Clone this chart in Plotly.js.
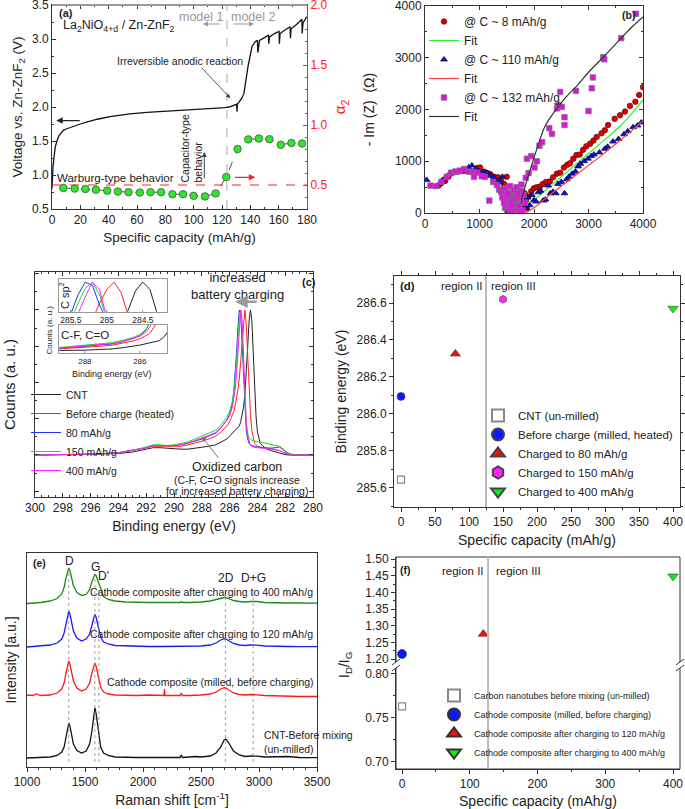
<!DOCTYPE html>
<html>
<head>
<meta charset="utf-8">
<script src="https://cdn.plot.ly/plotly-3.0.1.min.js"></script>
<style>body{margin:0;background:#fff}#graphDiv{width:685px;height:809px}</style>
</head>
<body>
<div id="graphDiv"></div>
<script>
// ---------- (a) charge curve and alpha2 ----------
var capA = [0, 0.3, 0.7, 1.5, 2.4, 3.5, 4.7, 6.5, 8.2, 10.5, 12.9, 16, 20, 25, 32, 41, 55, 67, 83, 102, 115, 122, 125, 128, 130.3, 130.6, 130.9, 132, 134, 135.5, 136.4, 137.3, 138.3, 139.5, 141.2, 143.5, 145.0, 145.3, 145.8, 146.5, 150, 152.8, 153.0, 153.5, 157, 160.3, 160.5, 161, 165, 168.1, 168.3, 168.8, 173, 176.4, 176.6, 177.2, 180];
var voltA = [0.8, 1.0, 1.12, 1.28, 1.42, 1.5, 1.57, 1.62, 1.66, 1.68, 1.70, 1.72, 1.75, 1.78, 1.82, 1.86, 1.9, 1.92, 1.94, 1.965, 1.975, 1.99, 2.0, 2.02, 2.04, 1.93, 2.04, 2.07, 2.13, 2.2, 2.30, 2.45, 2.59, 2.74, 2.89, 2.96, 2.98, 2.80, 2.92, 2.98, 3.02, 3.06, 2.93, 3.03, 3.08, 3.11, 2.93, 3.08, 3.14, 3.18, 3.01, 3.15, 3.22, 3.29, 3.08, 3.24, 3.33];
var capAlpha = [8, 16, 23.5, 31, 39, 46.5, 54, 62, 69.5, 77, 85, 92.5, 100, 108, 115.5, 123, 131, 138.5, 146, 153.5, 161.5, 169, 176.5];
var alpha2 = [0.475, 0.47, 0.467, 0.46, 0.453, 0.445, 0.44, 0.437, 0.44, 0.44, 0.423, 0.423, 0.41, 0.405, 0.43, 0.566, 0.8, 0.88, 0.887, 0.882, 0.835, 0.85, 0.846];

// ---------- (b) impedance ----------
var re8 = [250,300,370,430,490,550,610,680,740,810,890,960,1010,1080,1150,1200,1270,1340,1400,1450,1500,1480,1520,1560,1600,1640,1680,1720,1760,1800,1850,1900,1950,2000,2050,2110,2160,2220,2290,2350,2420,2480,2550,2610,2660,2720,2780,2840,2900,2960,3030,3090,3150,3240,3300,3360,3480,3580,3670,3760,3860,3930,4000,1550,1620,1700,1780,1830,1870];
var im8 = [530,580,620,700,770,790,800,810,815,800,795,870,880,800,770,750,700,690,620,560,700,420,330,260,200,150,120,90,130,180,240,320,420,480,500,510,560,600,610,690,760,780,880,930,960,1050,1120,1130,1220,1290,1340,1400,1470,1540,1600,1700,1820,1890,1960,2070,2150,2280,2430,60,330,280,40,380,90];
var re110 = [30,260,320,390,450,530,600,700,800,860,920,990,1060,1130,1200,1270,1330,1380,1420,1450,1480,1500,1520,1560,1600,1640,1680,1720,1760,1800,1850,1880,1920,1960,2000,2040,2080,2120,2170,2210,2260,2300,2350,2400,2440,2500,2560,2600,2640,2700,2760,2810,2850,2920,2990,3050,3100,3200,3300,3350,3450,3550,3650,3720,3820,3900,3970];
var im110 = [640,560,640,700,760,800,810,820,880,920,850,810,790,780,720,680,620,590,700,480,300,100,20,180,60,250,120,300,50,200,100,300,150,350,250,220,400,430,240,260,530,380,410,380,560,600,380,650,700,760,800,900,950,1000,1050,1100,1130,1170,1240,1280,1380,1430,1520,1580,1660,1690,1750];
var re132 = [100,200,300,400,480,560,640,720,800,880,900,960,1040,1100,1180,1250,1320,1360,1400,1420,1450,1470,1490,1510,1530,1550,1570,1590,1610,1630,1650,1670,1690,1710,1730,1750,1770,1790,1810,1830,1850,1870,1900,1950,2010,2050,2100,2150,2280,2330,2420,2450,2480,2510,2560,2560,2770,3000,3060,3080,3270,3290,3600,3870,1480,1520,1560,1600,1640,1680,1720,1760,1540,1620,1700,1580];
var im132 = [530,520,600,700,780,800,820,850,800,790,700,780,710,700,240,600,540,450,400,300,200,100,350,50,250,150,400,300,50,200,350,100,250,450,150,300,550,50,350,200,680,1050,770,1100,880,1000,1300,1370,1640,1530,2020,2080,2340,2050,1700,1850,2360,1970,2410,2620,3010,2970,3380,3850,480,380,520,150,450,500,30,420,10,260,380,230];
var fitRe8 = [250,350,450,550,650,750,850,950,1050,1150,1250,1350,1420,1480,1530,1580,1640,1700,1800,1900,2000,2200,2400,2600,2800,3000,3200,3400,3600,3800,4000];
var fitIm8 = [540,640,720,770,795,805,800,780,745,700,640,560,470,370,250,150,80,60,80,160,250,430,610,790,970,1150,1330,1510,1700,1930,2190];
var fitRe110 = [1850,2000,2200,2400,2600,2800,3000,3200,3400,3600,3800,4000];
var fitIm110 = [0,100,270,440,600,760,920,1080,1250,1420,1600,1780];
var fitRe132 = [1760,1850,1950,2050,2200,2350,2500,2650,2800,3000,3270,3600,3800,4000];
var fitIm132 = [200,560,900,1230,1670,1920,2130,2310,2470,2720,3010,3380,3600,3790];

// ---------- (c) XPS C 1s ----------
var bindE = [300,298,296,294,293,292,291.5,291,290.5,290,289.5,289,288.5,288,287.5,287,286.6,286.2,286.0,285.8,285.7,285.6,285.5,285.4,285.3,285.2,285.1,285.0,284.9,284.8,284.7,284.6,284.5,284.4,284.3,284.2,284.1,284.0,283.8,283.6,283.3,283.0,282.7,282.4,282.1,281.8,281.5,281,280];
var xpsCNT = [0,0,0.005,0.01,0.02,0.04,0.05,0.05,0.045,0.04,0.04,0.04,0.045,0.05,0.06,0.07,0.09,0.11,0.13,0.15,0.16,0.17,0.18,0.19,0.2,0.23,0.27,0.33,0.42,0.56,0.74,0.92,1.0,0.93,0.7,0.45,0.27,0.16,0.08,0.06,0.04,0.03,0.02,0.01,0.005,0,0,0,0];
var xpsHeated = [0,0,0.005,0.015,0.03,0.05,0.06,0.06,0.055,0.055,0.06,0.07,0.08,0.095,0.11,0.13,0.16,0.2,0.23,0.27,0.3,0.34,0.39,0.45,0.53,0.65,0.8,0.93,1.0,0.9,0.68,0.45,0.28,0.17,0.11,0.08,0.07,0.06,0.055,0.05,0.05,0.045,0.04,0.03,0.015,0.005,0,0,0];
var xps80 = [0,0,0.005,0.015,0.03,0.05,0.065,0.065,0.06,0.065,0.07,0.08,0.095,0.11,0.13,0.15,0.19,0.24,0.28,0.36,0.44,0.55,0.7,0.88,1.0,0.97,0.78,0.52,0.3,0.17,0.11,0.08,0.07,0.065,0.06,0.06,0.055,0.055,0.055,0.05,0.045,0.045,0.05,0.055,0.03,0.01,0,0,0];
var xps150 = [0,0,0.005,0.015,0.03,0.055,0.07,0.07,0.065,0.07,0.08,0.09,0.11,0.13,0.15,0.17,0.21,0.26,0.3,0.37,0.43,0.52,0.64,0.8,0.94,1.0,0.88,0.62,0.38,0.22,0.15,0.12,0.11,0.1,0.1,0.095,0.09,0.09,0.09,0.085,0.075,0.07,0.065,0.06,0.035,0.015,0.005,0,0];
var xps400 = [0,0,0.005,0.015,0.03,0.05,0.065,0.065,0.06,0.065,0.07,0.08,0.1,0.115,0.135,0.155,0.19,0.24,0.27,0.33,0.38,0.45,0.56,0.7,0.86,1.0,0.93,0.66,0.4,0.22,0.13,0.09,0.07,0.06,0.055,0.05,0.05,0.05,0.05,0.05,0.045,0.04,0.035,0.03,0.015,0.005,0,0,0];
var xpsNames = ['CNT', 'Before charge (heated)', '80 mAh/g', '150 mAh/g', '400 mAh/g'];

// ---------- (d) C-F / C=O binding energy ----------
var dNames = ['CNT (un-milled)', 'Before charge (milled, heated)', 'Charged to 80 mAh/g', 'Charged to 150 mAh/g', 'Charged to 400 mAh/g'];
var dCap = [0, 0, 80, 150, 400];
var dBE = [285.645, 286.095, 286.325, 286.62, 286.57];

// ---------- (e) Raman ----------
var ramanShift = [1000,1050,1080,1120,1200,1260,1300,1320,1335,1350,1360,1370,1385,1400,1430,1470,1510,1540,1560,1575,1585,1595,1610,1620,1635,1660,1700,1760,1850,1950,2050,2150,2180,2185,2190,2250,2320,2330,2340,2400,2450,2500,2580,2630,2670,2700,2715,2740,2780,2830,2880,2930,2950,2980,3050,3150,3250,3350,3500];
var ramanCNT = [0,0.3,0.3,0.5,1,2.5,6,11,19,30,35,32,22,14,7.5,5,7,14,27,43,50,45,30,20,11,5,2.5,1,0.5,0.5,0.5,0.5,0.5,0.5,0.5,0.5,0.5,3,0.5,1,1.5,1,2,5,11,18,19,15,7,3,1.5,2,2,1.8,1,1,1.5,0.5,0.3];
var ramanMilled = [2,1.5,3,1.5,2,4,8,14,23,32,36,33,24,16,9,6,8,14,24,31,34,31,23,17,10,5,3,2,1.5,1.5,2,1.5,1.5,8,1.5,1.5,1.5,4,1.5,1.5,1.5,2,3,5,8,9.4,9,7,4,2.5,2,2.5,2.5,2.2,1.5,1,1,0.5,0.5];
var raman120 = [0,0.5,0.5,1,2,4,8,14,23,31,35.7,33,24,16,9,6,8,13,22,30,32.7,30,22,16,10,5,3,1.5,1,0.5,0.5,0.5,0.5,0.5,0.5,0.5,0.5,0.5,0.5,0.5,0.5,1,2,4,7,8.4,8,6,3.5,2,1.5,2,2,1.8,1,0.5,0.5,0.3,0.3];
var raman400 = [0,0.5,0.5,1,2.5,5,9.5,16,25,32,35.6,33,25,18,11,8,9,14,22,27,29,28,23,20,14,7,4,2.5,1.5,1,1,1,1,1,1,1,1,2,1,1,1,1.5,2.5,4,5.5,6,6,5,3,2,1.5,2,2.3,2,1,0.5,0.5,0.5,0.3];
var ramanOffset = [9, 70, 120, 163.5];
var ramanBands = ['D', 'G', "D'", '2D', 'D+G'];
var bandShift = [1360, 1585, 1620, 2710, 2950];

// ---------- (f) ID/IG ----------
var fNames = ['Carbon nanotubes before mixing (un-milled)', 'Cathode composite (milled, before charging)', 'Cathode composite after charging to 120 mAh/g', 'Cathode composite after charging to 400 mAh/g'];
var fCap = [0, 0, 120, 400];
var fRatio = [0.763, 1.215, 1.275, 1.448];

// ---------- helpers ----------
var W = 685, H = 809;
function px(x) { return x / W; }
function py(y) { return 1 - y / H; }

function axis(o) {
  return Object.assign({
    showline: true, linecolor: '#333', linewidth: 1, mirror: 'ticks',
    ticks: 'inside', ticklen: 4, tickcolor: '#333', zeroline: false,
    showgrid: false, tickfont: {size: 12}, ticklabeloverflow: 'allow',
    title: {font: {size: 13.5}}
  }, o);
}
function note(x, y, text, o) {
  return Object.assign({xref: 'paper', yref: 'paper', x: px(x), y: py(y), text: text,
    xanchor: 'center', yanchor: 'middle', showarrow: false, font: {size: 11}}, o);
}
function arrow(xref, yref, x, y, ax, ay, color, width) {
  return {xref: xref, yref: yref, x: x, y: y, ax: ax, ay: ay, text: '', showarrow: true,
    arrowhead: 2, arrowsize: 1, arrowwidth: width || 1, arrowcolor: color || '#222'};
}

var data = [];

// (a)
data.push({x: capA, y: voltA, xaxis: 'x', yaxis: 'y', mode: 'lines', showlegend: false,
  line: {color: '#111', width: 1.3}});
data.push({x: capAlpha, y: alpha2, xaxis: 'x', yaxis: 'y2', mode: 'lines+markers', showlegend: false,
  line: {color: '#555', width: 1, dash: 'dash'},
  marker: {color: '#2ee62e', size: 7.5, line: {color: '#3a5a3a', width: 0.8}}});

// (b)
var bStyle = [
  {x: re8, y: im8, name: '@ C ~ 8 mAh/g', mode: 'markers', marker: {symbol: 'circle', size: 5.5, color: '#e00000', line: {color: '#500', width: 0.7}}},
  {x: fitRe8, y: fitIm8, name: 'Fit', mode: 'lines', line: {color: '#33ee33', width: 1.2, shape: 'spline'}},
  {x: re110, y: im110, name: '@ C ~ 110 mAh/g', mode: 'markers', marker: {symbol: 'triangle-up', size: 6, color: '#1010e0', line: {color: '#003', width: 0.7}}},
  {x: fitRe110, y: fitIm110, name: 'Fit', mode: 'lines', line: {color: '#ff4040', width: 1.2, shape: 'spline'}},
  {x: re132, y: im132, name: '@ C ~ 132 mAh/g', mode: 'markers', marker: {symbol: 'square', size: 5.5, color: '#e010e0', line: {color: '#777', width: 0.7}}},
  {x: fitRe132, y: fitIm132, name: 'Fit', mode: 'lines', line: {color: '#333', width: 1.2, shape: 'spline'}}
];
bStyle.forEach(function (t) {
  t.xaxis = 'x2'; t.yaxis = 'y3'; t.legend = 'legend';
  data.push(t);
});

// (c) main spectra + inset copies
var xpsSets = [xpsCNT, xpsHeated, xps80, xps150, xps400];
var xpsColors = ['#222', '#ff2020', '#2030ff', '#20dd20', '#ff20ff'];
xpsSets.forEach(function (s, i) {
  data.push({x: bindE, y: s, name: xpsNames[i], xaxis: 'x3', yaxis: 'y4', mode: 'lines',
    legend: 'legend2', line: {color: xpsColors[i], width: 1}});
  data.push({x: bindE, y: s, xaxis: 'x4', yaxis: 'y5', mode: 'lines', showlegend: false,
    line: {color: xpsColors[i], width: 1}});
  data.push({x: bindE, y: s, xaxis: 'x5', yaxis: 'y6', mode: 'lines', showlegend: false,
    line: {color: xpsColors[i], width: 1}});
});

// (d)
var dSymbols = ['square-open', 'circle', 'triangle-up', 'hexagon', 'triangle-down'];
var dColors = ['#888', '#0a1aff', '#ee1111', '#ff22ff', '#11ee11'];
var dSizes = [7, 8, 9, 8, 9];
dNames.forEach(function (n, i) {
  data.push({x: [dCap[i]], y: [dBE[i]], name: n, xaxis: 'x6', yaxis: 'y7', mode: 'markers',
    legend: 'legend3',
    marker: {symbol: dSymbols[i], size: dSizes[i], color: dColors[i],
      line: {color: i === 0 ? '#888' : '#444', width: i === 0 ? 1.2 : 0.6}}});
});

// (e)
var ramanSets = [ramanCNT, ramanMilled, raman120, raman400];
var ramanColors = ['#111', '#ff1a1a', '#1a1aff', '#1a8c1a'];
ramanSets.forEach(function (s, i) {
  data.push({x: ramanShift, y: s.map(function (v) { return v + ramanOffset[i]; }),
    xaxis: 'x7', yaxis: 'y8', mode: 'lines', showlegend: false,
    line: {color: ramanColors[i], width: 1.3}});
});

// (f)
var fSymbols = ['square-open', 'circle', 'triangle-up', 'triangle-down'];
var fColors = ['#888', '#0a1aff', '#ee1111', '#11ee11'];
fNames.forEach(function (n, i) {
  data.push({x: [fCap[i]], y: [fRatio[i]], name: n, xaxis: 'x8', yaxis: i === 0 ? 'y10' : 'y9',
    mode: 'markers', legend: 'legend4',
    marker: {symbol: fSymbols[i], size: i === 0 ? 7 : 9, color: fColors[i],
      line: {color: i === 0 ? '#888' : '#333', width: i === 0 ? 1.2 : 0.6}}});
});

var red = '#ff2020';
var layout = {
  width: W, height: H,
  margin: {l: 0, r: 0, t: 0, b: 0},
  paper_bgcolor: '#fff', plot_bgcolor: 'rgba(0,0,0,0)',
  font: {family: 'Liberation Sans, Arial, sans-serif', color: '#222', size: 12},
  showlegend: true,

  // (a)
  xaxis: axis({domain: [px(52), px(307)], range: [0, 180], dtick: 20, anchor: 'y',
    minor: {dtick: 10, ticks: 'inside', ticklen: 2},
    title: {text: 'Specific capacity (mAh/g)', font: {size: 13.5}, standoff: 6}}),
  yaxis: axis({domain: [py(209), py(5)], range: [0.5, 3.5], dtick: 0.5, tickformat: '.1f', anchor: 'x', mirror: false,
    minor: {dtick: 0.25, ticks: 'inside', ticklen: 2},
    title: {text: 'Voltage vs. Zn-ZnF<sub>2</sub> (V)', font: {size: 13.5}, standoff: 6}}),
  yaxis2: axis({overlaying: 'y', side: 'right', anchor: 'x', range: [0.3, 2.0], tickvals: [0.5, 1, 1.5, 2],
    tickformat: '.1f', mirror: false, linecolor: red, tickcolor: red, tickfont: {size: 12, color: red},
    minor: {dtick: 0.1, ticks: 'inside', ticklen: 2, tickcolor: red},
    title: {text: '\u03b1<sub>2</sub>', font: {size: 15, color: red}, standoff: 8}}),

  // (b)
  xaxis2: axis({domain: [px(425), px(643)], range: [0, 4000], dtick: 1000, anchor: 'y3',
    minor: {dtick: 500, ticks: 'inside', ticklen: 2}}),
  yaxis3: axis({domain: [py(213), py(6)], range: [0, 4000], dtick: 1000, anchor: 'x2',
    minor: {dtick: 500, ticks: 'inside', ticklen: 2},
    title: {text: '- Im (Z)\u00a0\u00a0(\u03a9)', font: {size: 14}, standoff: 16}}),

  // (c)
  xaxis3: axis({domain: [px(35), px(313)], range: [300, 280], dtick: 2, anchor: 'y4',
    minor: {dtick: 0.5, ticks: 'inside', ticklen: 2},
    title: {text: 'Binding energy (eV)', font: {size: 14}, standoff: 6}}),
  yaxis4: axis({domain: [py(497), py(272)], range: [-0.29, 1.262], dtick: 0.25, anchor: 'x3',
    showticklabels: false, minor: {dtick: 0.125, ticks: 'inside', ticklen: 2},
    title: {text: 'Counts (a. u.)', font: {size: 15}, standoff: 14}}),
  xaxis4: axis({domain: [px(59.3), px(167.3)], range: [285.66, 284.16], anchor: 'y5',
    tickvals: [285.5, 285, 284.5], ticktext: ['285.5', '285', '284.5'], tickfont: {size: 8.5},
    linecolor: '#999', mirror: true, ticklen: 2, tickcolor: '#999'}),
  yaxis5: axis({domain: [py(311.7), py(279)], range: [0.72, 1.03], anchor: 'x4',
    showticklabels: false, ticks: '', linecolor: '#999', mirror: true}),
  xaxis5: axis({domain: [px(59.3), px(167.3)], range: [288.93, 285.0], anchor: 'y6',
    tickvals: [288, 286], tickfont: {size: 8}, linecolor: '#999', mirror: true, ticklen: 2, tickcolor: '#999'}),
  yaxis6: axis({domain: [py(353.3), py(325)], range: [0, 0.45], anchor: 'x5',
    showticklabels: false, ticks: '', linecolor: '#999', mirror: true}),

  // (d)
  xaxis6: axis({domain: [px(394), px(680)], range: [-10.3, 410.3], dtick: 50, anchor: 'y7', ticks: 'outside',
    minor: {dtick: 25, ticks: 'outside', ticklen: 2},
    title: {text: 'Specific capacity (mAh/g)', font: {size: 14}, standoff: 6}}),
  yaxis7: axis({domain: [py(507), py(276)], range: [285.497, 286.746], tick0: 285.6, dtick: 0.2, tickformat: '.1f',
    anchor: 'x6', ticks: 'outside', minor: {dtick: 0.1, ticks: 'outside', ticklen: 2},
    title: {text: 'Binding energy (eV)', font: {size: 14}, standoff: 6}}),

  // (e)
  xaxis7: axis({domain: [px(27), px(317)], range: [1000, 3500], dtick: 500, anchor: 'y8', ticks: 'outside',
    mirror: true, minor: {dtick: 100, ticks: 'outside', ticklen: 2},
    title: {text: 'Raman shift [cm<sup>-1</sup>]', font: {size: 14}, standoff: 6}}),
  yaxis8: axis({domain: [py(767), py(553)], range: [0, 214], anchor: 'x7', showticklabels: false,
    ticks: '', mirror: true, title: {text: 'Intensity [a.u.]', font: {size: 14}, standoff: 6}}),

  // (f)
  xaxis8: axis({domain: [px(396), px(680)], range: [-8.9, 410.3], dtick: 100, anchor: 'y10', ticks: 'outside',
    mirror: false, minor: {dtick: 50, ticks: 'outside', ticklen: 2},
    title: {text: 'Specific capacity (mAh/g)', font: {size: 14}, standoff: 6}}),
  yaxis9: axis({domain: [py(665), py(557)], range: [1.182, 1.506], tick0: 1.2, dtick: 0.05, tickformat: '.2f',
    anchor: 'x8', ticks: 'outside', mirror: false, minor: {dtick: 0.025, ticks: 'outside', ticklen: 2}}),
  yaxis10: axis({domain: [py(769), py(665)], range: [0.692, 0.81], tick0: 0.7, dtick: 0.05, tickformat: '.2f',
    anchor: 'x8', ticks: 'outside', mirror: false, minor: {dtick: 0.025, ticks: 'outside', ticklen: 2}}),

  legend: {x: px(424), y: py(7), xanchor: 'left', yanchor: 'top', bgcolor: 'rgba(0,0,0,0)',
    font: {size: 12}},
  legend2: {x: px(26), y: py(380), xanchor: 'left', yanchor: 'top', bgcolor: 'rgba(0,0,0,0)',
    font: {size: 10.5}},
  legend3: {x: px(478), y: py(506), xanchor: 'left', yanchor: 'bottom', bgcolor: 'rgba(0,0,0,0)',
    font: {size: 11.5}, itemsizing: 'constant'},
  legend4: {x: px(434), y: py(767), xanchor: 'left', yanchor: 'bottom', bgcolor: 'rgba(0,0,0,0)',
    font: {size: 9}, itemsizing: 'constant'},

  shapes: [
    // (a)
    {type: 'line', xref: 'paper', yref: 'paper', x0: px(52), x1: px(307), y0: py(5), y1: py(5),
      line: {color: '#999', width: 2}},
    {type: 'line', xref: 'x', yref: 'y domain', x0: 123.5, x1: 123.5, y0: 0, y1: 1,
      line: {color: '#aaa', width: 1, dash: 'dash'}},
    {type: 'line', xref: 'x domain', yref: 'y2', x0: 0, x1: 1, y0: 0.5, y1: 0.5,
      line: {color: red, width: 1, dash: 'dash'}},
    // (d)
    {type: 'line', xref: 'x6', yref: 'y7 domain', x0: 125, x1: 125, y0: 0, y1: 1,
      line: {color: '#bbb', width: 2}}
  ].concat(bandShift.map(function (b, i) {
    // (e) band markers
    var tops = [199, 189, 177, 177, 174];
    return {type: 'line', xref: 'x7', yref: 'y8', x0: b, x1: b, y0: 5, y1: tops[i],
      line: {color: '#888', width: 0.8, dash: 'dot'}};
  })).concat([
    // (f) frame, region line, axis break
    {type: 'rect', xref: 'paper', yref: 'paper', x0: px(396), x1: px(680), y0: py(769), y1: py(557),
      line: {color: '#333', width: 1}},
    {type: 'line', xref: 'x8', yref: 'paper', x0: 127, x1: 127, y0: py(769), y1: py(557),
      line: {color: '#bbb', width: 2}},
    {type: 'rect', xref: 'paper', yref: 'paper', x0: px(392), x1: px(400), y0: py(668), y1: py(662),
      fillcolor: '#fff', line: {width: 0}},
    {type: 'rect', xref: 'paper', yref: 'paper', x0: px(676), x1: px(684), y0: py(668), y1: py(662),
      fillcolor: '#fff', line: {width: 0}},
    {type: 'line', xref: 'paper', yref: 'paper', x0: px(392), x1: px(400), y0: py(665), y1: py(659), line: {color: '#333', width: 1}},
    {type: 'line', xref: 'paper', yref: 'paper', x0: px(392), x1: px(400), y0: py(671), y1: py(665), line: {color: '#333', width: 1}},
    {type: 'line', xref: 'paper', yref: 'paper', x0: px(676), x1: px(684), y0: py(665), y1: py(659), line: {color: '#333', width: 1}},
    {type: 'line', xref: 'paper', yref: 'paper', x0: px(676), x1: px(684), y0: py(671), y1: py(665), line: {color: '#333', width: 1}}
  ]),

  annotations: [
    // (a)
    note(57, 13, '<b>(a)</b>', {xanchor: 'left', font: {size: 11}}),
    note(119, 26, 'La<sub>2</sub>NiO<sub>4+d</sub> / Zn-ZnF<sub>2</sub>', {font: {size: 12.5}}),
    note(201.5, 17, 'model 1', {font: {size: 12.5, color: '#999'}}),
    note(253, 17, 'model 2', {font: {size: 12.5, color: '#999'}}),
    arrow('paper', 'paper', px(203), py(24), 18, 0, '#999'),
    arrow('paper', 'paper', px(254), py(24), -22, 0, '#999'),
    note(180, 61, 'Irreversible anodic reaction', {font: {size: 10.5}}),
    arrow('x', 'y', 125.8, 2.13, -30, -32, '#333', 0.8),
    arrow('x', 'y', 3, 1.80, 25, 0, '#222', 1.3),
    arrow('x', 'y2', 143.5, 0.564, -22, 0, red, 1.3),
    note(55, 178, 'Warburg-type behavior', {xanchor: 'left', font: {size: 11.5}}),
    note(191.5, 149, 'Capacitor-type<br>behavior', {textangle: -90, align: 'left', font: {size: 10.5}}),
    arrow('x', 'y', 107.5, 1.34, 0, 28, '#444', 1),

    // (b)
    note(628, 15, '<b>(b)</b>', {font: {size: 10.5}}),

    // (c)
    note(309, 282, '<b>(c)</b>', {font: {size: 11}}),
    note(237, 286, 'increased<br>battery charging', {font: {size: 13}}),
    arrow('x3', 'y4', 285.6, 1.057, 23, 0, '#999', 2.5),
    note(237, 467, 'Oxidized carbon', {font: {size: 12.5}}),
    note(237, 480, '(C-F, C=O signals increase', {font: {size: 10.5}}),
    note(237, 491, 'for increased battery charging)', {font: {size: 10.5}}),
    arrow('x3', 'y4', 288.0, 0.126, 18, 23, '#777', 1),
    note(64, 295, 'C sp<sup>2</sup>', {textangle: -90, font: {size: 11}}),
    note(85, 335, 'C-F, C=O', {font: {size: 11.5}}),
    note(48.5, 330, 'Counts (a. u.)', {textangle: -90, font: {size: 8}}),
    note(112, 374, 'Binding energy (eV)', {font: {size: 9}}),

    // (d)
    note(398, 286, '<b>(d)</b>', {xanchor: 'left', font: {size: 11.5}}),
    note(462, 286, 'region II', {font: {size: 11.5}}),
    note(513, 286, 'region III', {font: {size: 11.5}}),

    // (e)
    note(31, 563, '<b>(e)</b>', {xanchor: 'left', font: {size: 10.5}}),
    note(315, 592, 'Cathode composite after charging to 400 mAh/g', {xanchor: 'right', font: {size: 10.5}}),
    note(315, 634, 'Cathode composite after charging to 120 mAh/g', {xanchor: 'right', font: {size: 10.5}}),
    note(316, 682, 'Cathode composite (milled, before charging)', {xanchor: 'right', font: {size: 10.5}}),
    note(262, 742, 'CNT-Before mixing<br>(un-milled)', {xanchor: 'left', align: 'left', font: {size: 10.5}}),

    // (f)
    note(398, 570, '<b>(f)</b>', {xanchor: 'left', font: {size: 10.5}}),
    note(463, 571, 'region II', {font: {size: 11.5}}),
    note(518, 571, 'region III', {font: {size: 11.5}}),
    note(345, 665, 'I<sub>D</sub>/I<sub>G</sub>', {textangle: -90, font: {size: 14}})
  ].concat(ramanBands.map(function (b, i) {
    var lx = [1370, 1592, 1660, 2716, 2951];
    var ly = [206, 200, 191, 188.7, 189];
    return {xref: 'x7', yref: 'y8', x: lx[i], y: ly[i], text: b, showarrow: false, font: {size: 12}};
  }))
};

Plotly.newPlot('graphDiv', data, layout, {displayModeBar: false});
</script>
</body>
</html>
